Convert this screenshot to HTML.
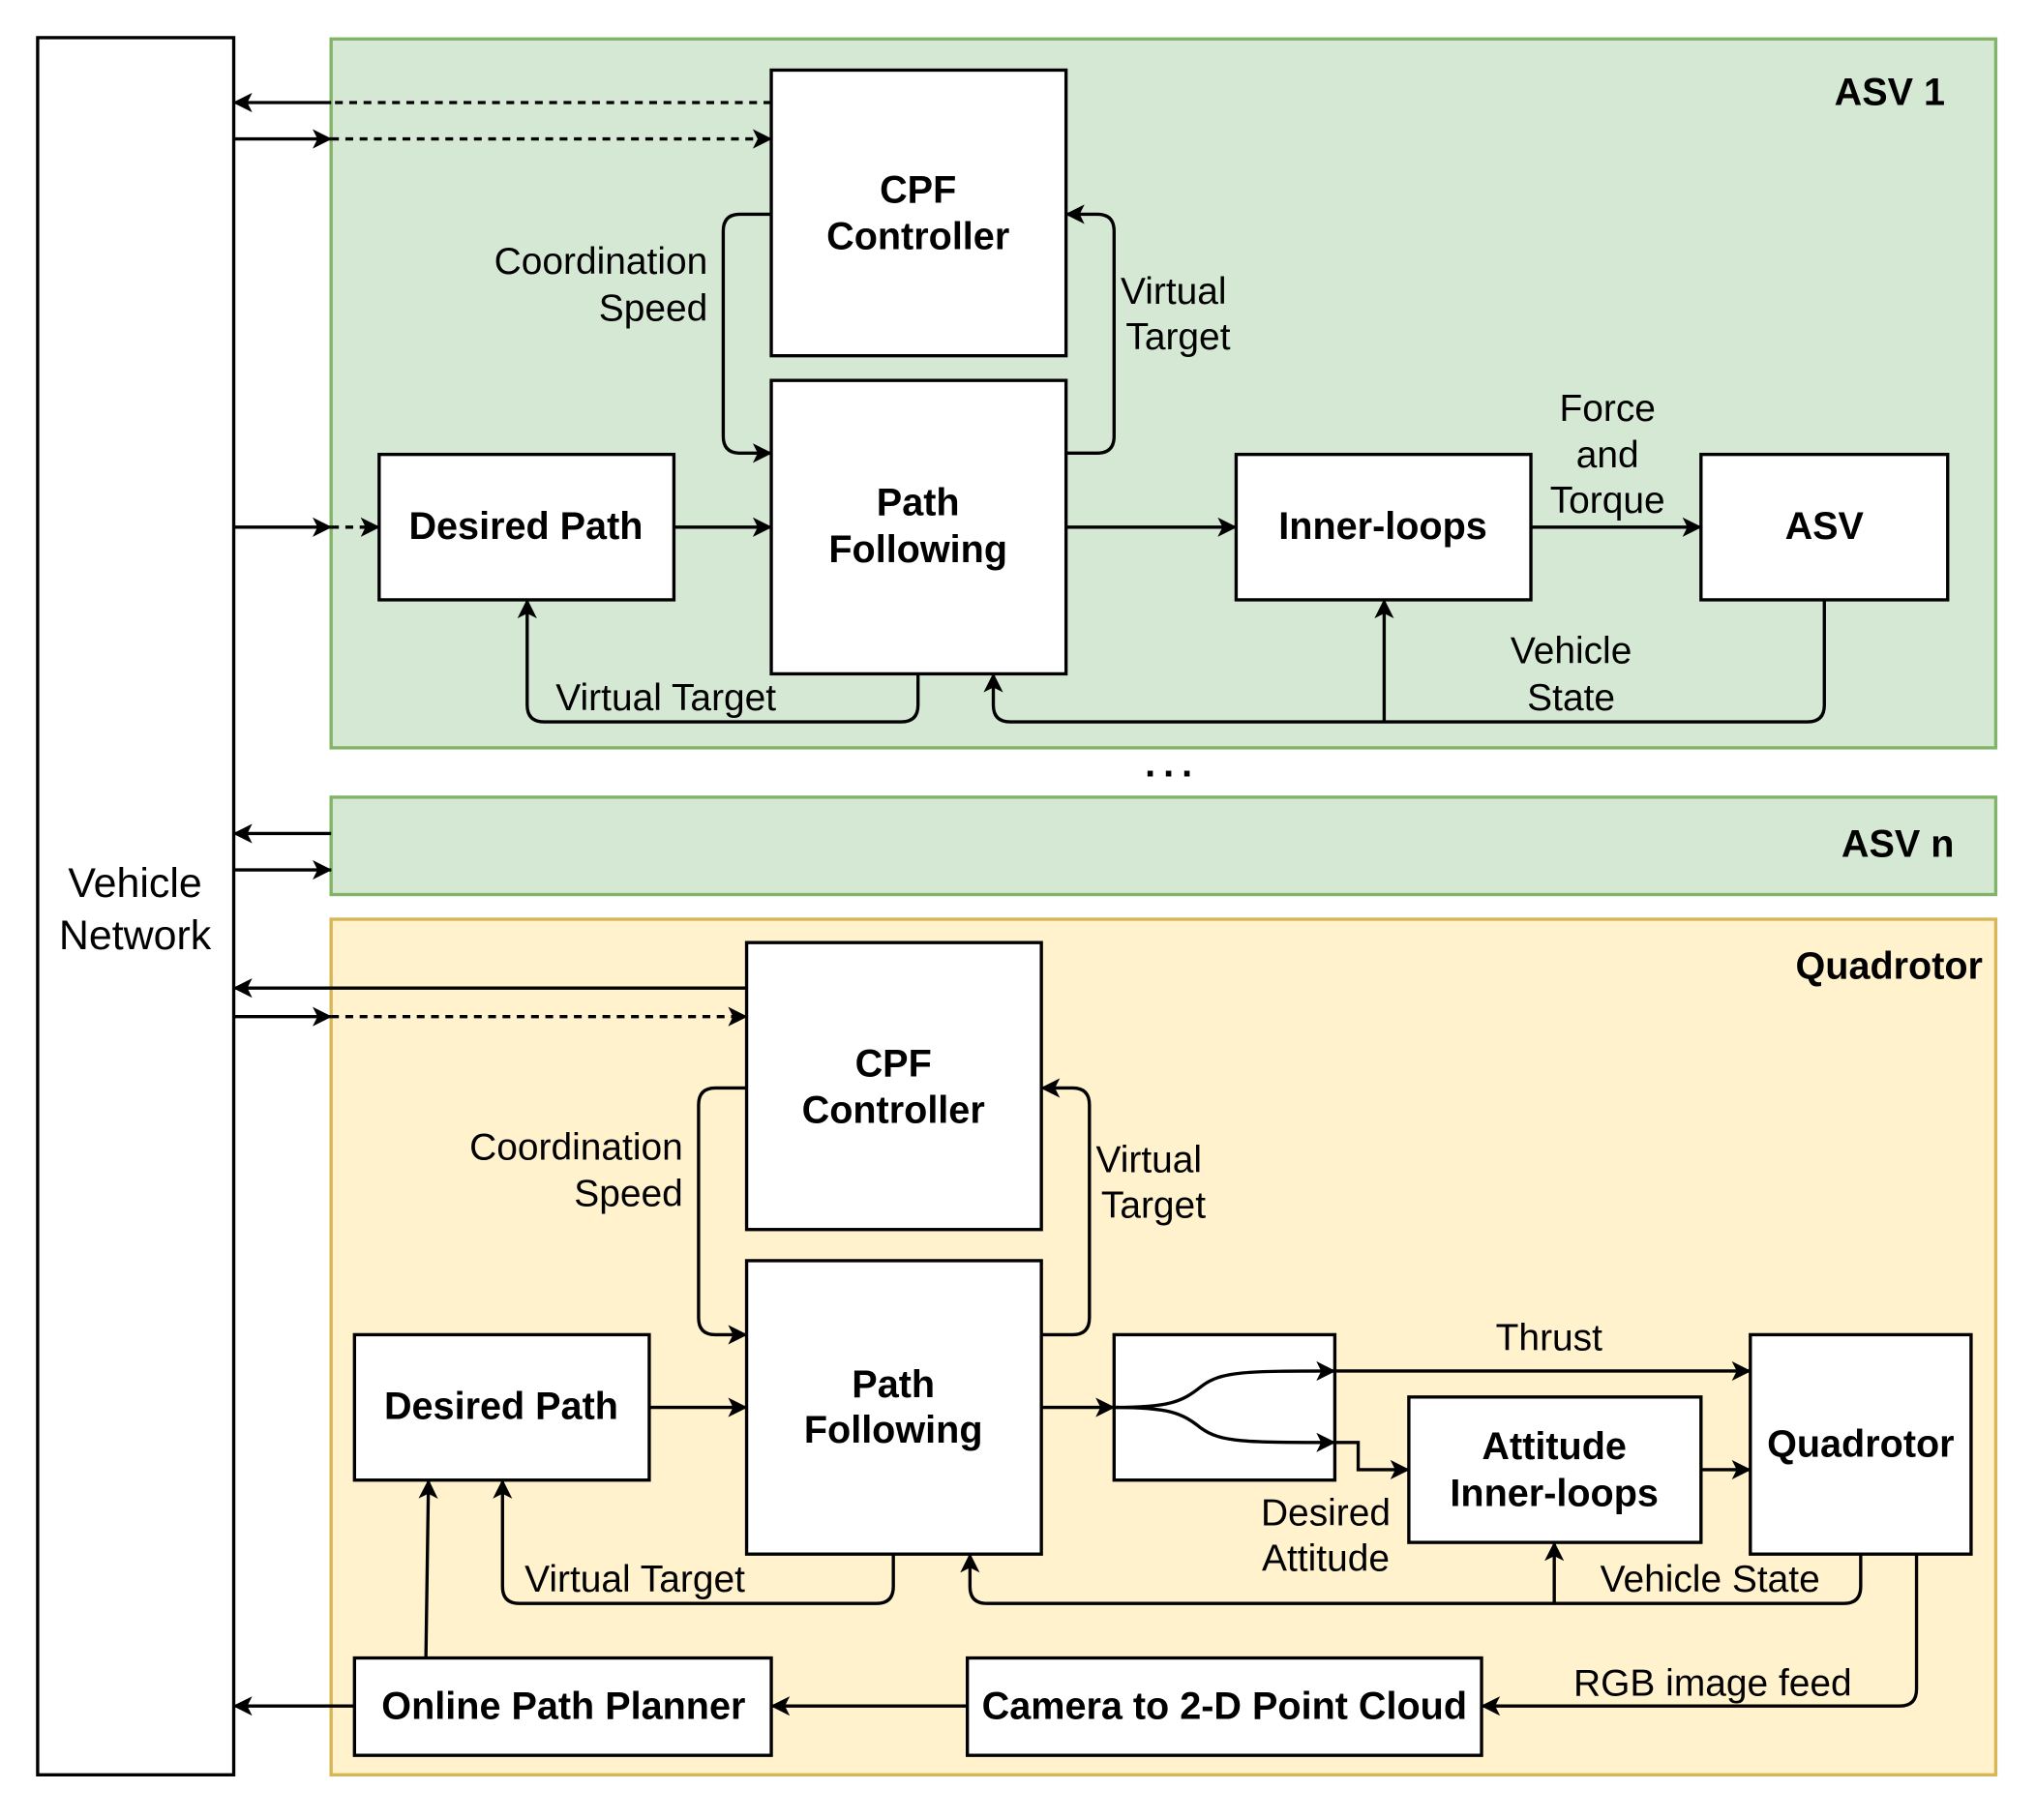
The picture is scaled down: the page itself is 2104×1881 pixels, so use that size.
<!DOCTYPE html>
<html><head><meta charset="utf-8"><style>
html,body{margin:0;padding:0;background:#fff;}
svg{display:block;}
text{font-family:"Liberation Sans",Arial,sans-serif;fill:#000;}
.l{font-size:29px;}
.b{font-size:29.5px;font-weight:bold;}
.v{font-size:32px;}
</style></head><body>
<svg width="2104" height="1881" viewBox="0 0 1568 1401.8" preserveAspectRatio="none" xmlns="http://www.w3.org/2000/svg">
<defs>
<marker id="a" viewBox="0 0 20 20" refX="19" refY="10" markerWidth="15" markerHeight="15" markerUnits="userSpaceOnUse" orient="auto">
<path d="M0,0 L20,10 L0,20 L5,10 Z" fill="#000"/>
</marker>
</defs>
<g stroke-width="2.5">
<rect x="255" y="30" width="1282" height="546" fill="#d5e8d4" stroke="#82b366"/>
<rect x="255" y="614" width="1282" height="75" fill="#d5e8d4" stroke="#82b366"/>
<rect x="255" y="708" width="1282" height="659" fill="#fff2cc" stroke="#d6b656"/>
<rect x="29" y="29" width="151" height="1338" fill="#fff" stroke="#000"/>

<g fill="#fff" stroke="#000">
<rect x="594" y="54" width="227" height="220"/>
<rect x="594" y="293" width="227" height="226"/>
<rect x="292" y="350" width="227" height="112"/>
<rect x="952" y="350" width="227" height="112"/>
<rect x="1310" y="350" width="190" height="112"/>
<rect x="575" y="726" width="227" height="221"/>
<rect x="575" y="971" width="227" height="226"/>
<rect x="273" y="1028" width="227" height="112"/>
<rect x="858" y="1028" width="170" height="112"/>
<rect x="1085" y="1076" width="225" height="112"/>
<rect x="1348" y="1028" width="170" height="169"/>
<rect x="273" y="1277" width="321" height="75"/>
<rect x="745" y="1277" width="396" height="75"/>
</g>

<g fill="none" stroke="#000">
<path d="M594 79 H255" stroke-dasharray="6 5"/>
<path d="M255 79 H180" marker-end="url(#a)"/>
<path d="M180 107 H255" marker-end="url(#a)"/>
<path d="M255 107 H594" stroke-dasharray="6 5" marker-end="url(#a)"/>
<path d="M180 406 H255" marker-end="url(#a)"/>
<path d="M255 406 H292" stroke-dasharray="6 5" marker-end="url(#a)"/>
<path d="M594 165 H570 Q557 165 557 178 V336 Q557 349 570 349 H594" marker-end="url(#a)"/>
<path d="M821 349 H845 Q858 349 858 336 V178 Q858 165 845 165 H821" marker-end="url(#a)"/>
<path d="M519 406 H594" marker-end="url(#a)"/>
<path d="M821 406 H952" marker-end="url(#a)"/>
<path d="M1179 406 H1310" marker-end="url(#a)"/>
<path d="M707 519 V543 Q707 556 694 556 H419 Q406 556 406 543 V462" marker-end="url(#a)"/>
<path d="M1405 462 V543 Q1405 556 1392 556 H778 Q765 556 765 543 V519" marker-end="url(#a)"/>
<path d="M1066 556 V462" marker-end="url(#a)"/>
<path d="M255 642 H180" marker-end="url(#a)"/>
<path d="M180 670 H255" marker-end="url(#a)"/>
<path d="M575 761 H180" marker-end="url(#a)"/>
<path d="M180 783 H255" marker-end="url(#a)"/>
<path d="M255 783 H575" stroke-dasharray="6 5" marker-end="url(#a)"/>
<path d="M575 838 H551 Q538 838 538 851 V1015 Q538 1028 551 1028 H575" marker-end="url(#a)"/>
<path d="M802 1028 H826 Q839 1028 839 1015 V851 Q839 838 826 838 H802" marker-end="url(#a)"/>
<path d="M500 1084 H575" marker-end="url(#a)"/>
<path d="M802 1084 H858" marker-end="url(#a)"/>
<path d="M858 1084 C900 1084 910 1080 925 1068 C940 1056 960 1056 1028 1056" marker-end="url(#a)"/>
<path d="M858 1084 C900 1084 910 1088 925 1100 C940 1111 960 1111 1028 1111" marker-end="url(#a)"/>
<path d="M1028 1056 H1348" marker-end="url(#a)"/>
<path d="M1028 1111 H1046 V1132 H1085" marker-end="url(#a)"/>
<path d="M1310 1132 H1348" marker-end="url(#a)"/>
<path d="M1433 1197 V1222 Q1433 1235 1420 1235 H760 Q747 1235 747 1222 V1197" marker-end="url(#a)"/>
<path d="M1197 1235 V1188" marker-end="url(#a)"/>
<path d="M688 1197 V1222 Q688 1235 675 1235 H400 Q387 1235 387 1222 V1140" marker-end="url(#a)"/>
<path d="M328 1277 L330 1140" marker-end="url(#a)"/>
<path d="M273 1314 H180" marker-end="url(#a)"/>
<path d="M745 1314 H594" marker-end="url(#a)"/>
<path d="M1476 1197 V1301 Q1476 1314 1463 1314 H1141" marker-end="url(#a)"/>
</g>
</g>

<g text-anchor="middle">
<text class="v" x="104" y="691">Vehicle</text>
<text class="v" x="104" y="731">Network</text>
<text class="b" x="707" y="156">CPF</text>
<text class="b" x="707" y="192">Controller</text>
<text class="b" x="707" y="397">Path</text>
<text class="b" x="707" y="433">Following</text>
<text class="b" x="405" y="415">Desired Path</text>
<text class="b" x="1065" y="415">Inner-loops</text>
<text class="b" x="1405" y="415">ASV</text>
<text class="l" x="1238" y="324">Force</text>
<text class="l" x="1238" y="360">and</text>
<text class="l" x="1238" y="395">Torque</text>
<text class="l" x="1210" y="511">Vehicle</text>
<text class="l" x="1210" y="547">State</text>
<text class="b" x="903" y="598" style="letter-spacing:6px">...</text>

<text class="b" x="688" y="829">CPF</text>
<text class="b" x="688" y="865">Controller</text>
<text class="b" x="688" y="1076">Path</text>
<text class="b" x="688" y="1111">Following</text>
<text class="b" x="386" y="1093">Desired Path</text>
<text class="b" x="1197" y="1124">Attitude</text>
<text class="b" x="1197" y="1160">Inner-loops</text>
<text class="b" x="1433" y="1122">Quadrotor</text>
<text class="b" x="434" y="1324">Online Path Planner</text>
<text class="b" x="943" y="1324">Camera to 2-D Point Cloud</text>
<text class="l" x="1193" y="1040">Thrust</text>
<text class="l" x="1021" y="1175">Desired</text>
<text class="l" x="1021" y="1210">Attitude</text>
<text class="l" x="1317" y="1226">Vehicle State</text>
<text class="l" x="1319" y="1306">RGB image feed</text>
</g>
<g text-anchor="end">
<text class="l" x="545" y="211">Coordination</text>
<text class="l" x="545" y="247">Speed</text>
<text class="l" x="526" y="893">Coordination</text>
<text class="l" x="526" y="929">Speed</text>
<text class="b" x="1498" y="81">ASV 1</text>
<text class="b" x="1505" y="660">ASV n</text>
<text class="b" x="1527" y="754">Quadrotor</text>
</g>
<g>
<text class="l" x="863" y="234">Virtual</text>
<text class="l" x="867" y="269">Target</text>
<text class="l" x="428" y="547">Virtual Target</text>
<text class="l" x="844" y="903">Virtual</text>
<text class="l" x="848" y="938">Target</text>
<text class="l" x="404" y="1226">Virtual Target</text>
</g>
</svg>
</body></html>
